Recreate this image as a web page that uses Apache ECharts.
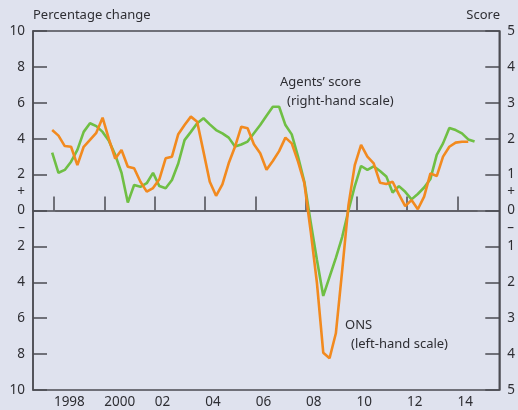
<!DOCTYPE html>
<html>
<head>
<meta charset="utf-8">
<script src="https://cdn.jsdelivr.net/npm/echarts@6/dist/echarts.min.js"></script>
<style>
  html, body { margin: 0; padding: 0; background: #dfe2ee; }
  #main { width: 518px; height: 410px; }
</style>
</head>
<body>
<div id="main"></div>
<script>
// quarterly series, first observation plotted just before the 1998 tick
const firstQuarter = 1997.93;

// ONS, percentage change (left-hand scale)
const onsValues = [
  4.48, 4.17, 3.59, 3.55, 2.53, 3.55, 3.93, 4.33, 5.17, 3.97,
  2.89, 3.37, 2.44, 2.35, 1.60, 1.05, 1.25, 1.74, 2.91, 3.00,
  4.25, 4.76, 5.23, 4.95, 3.28, 1.60, 0.82, 1.46, 2.63, 3.55,
  4.67, 4.58, 3.69, 3.19, 2.27, 2.76, 3.31, 4.06, 3.74, 2.72,
  1.52, -1.14, -4.04, -7.92, -8.23, -6.84, -3.35, 0.30, 2.53, 3.65,
  3.00, 2.63, 1.55, 1.48, 1.60, 0.90, 0.25, 0.58, 0.07, 0.77,
  2.07, 1.92, 3.00, 3.55, 3.78, 3.83, 3.83
];

// Agents' score (right-hand scale)
const agentsValues = [
  1.61, 1.05, 1.13, 1.36, 1.69, 2.19, 2.43, 2.35, 2.19, 1.94,
  1.55, 1.05, 0.22, 0.71, 0.66, 0.76, 1.05, 0.68, 0.62, 0.85,
  1.31, 1.96, 2.19, 2.43, 2.57, 2.40, 2.24, 2.15, 2.03, 1.78,
  1.84, 1.92, 2.15, 2.38, 2.64, 2.89, 2.89, 2.38, 2.12, 1.50,
  0.80, -0.32, -1.38, -2.38, -1.85, -1.32, -0.74, 0.00, 0.68, 1.24,
  1.13, 1.23, 1.10, 0.95, 0.50, 0.68, 0.52, 0.31, 0.46, 0.64,
  0.88, 1.55, 1.87, 2.30, 2.24, 2.15, 1.98, 1.92
];

const yearTicks = [1998, 2000, 2002, 2004, 2006, 2008, 2010, 2012, 2014];
const leftTicks = [-10, -8, -6, -4, -2, 0, 2, 4, 6, 8, 10];
const rightTicks = [-5, -4, -3, -2, -1, 0, 1, 2, 3, 4, 5];
const zeroLineSpan = [1998.05, 2014.8];

const toPairs = vals => vals.map((v, i) => [firstQuarter + i * 0.25, v]);

const inkColor = '#2e2e33';
const axisColor = '#4b4b52';
const fontFamily = '"Noto Sans", "Open Sans", sans-serif';

const chart = echarts.init(document.getElementById('main'), null, { renderer: 'canvas' });

chart.setOption({
  backgroundColor: '#dfe2ee',
  animation: false,
  textStyle: { fontFamily: fontFamily, color: inkColor },
  grid: {
    left: 33, right: 18, top: 31, bottom: 20,
    show: true, borderColor: axisColor, borderWidth: 1.5
  },
  xAxis: {
    type: 'value',
    min: 1997.17,
    max: 2015.66,
    axisLine: { show: true, lineStyle: { color: axisColor, width: 1.5 } },
    axisTick: {
      show: true, inside: true, length: 14, customValues: yearTicks,
      lineStyle: { color: axisColor, width: 1.5 }
    },
    axisLabel: {
      customValues: yearTicks,
      align: 'left',
      margin: 5,
      fontSize: 13.5,
      color: inkColor,
      formatter: v => (v === 1998 || v === 2000) ? String(v) : String(v).slice(2)
    },
    splitLine: { show: false }
  },
  yAxis: [
    {
      type: 'value',
      min: -10, max: 10,
      position: 'left',
      axisLine: { show: true, lineStyle: { color: axisColor, width: 1.5 } },
      axisTick: {
        show: true, inside: true, length: 14, customValues: leftTicks,
        lineStyle: { color: axisColor, width: 1.5 }
      },
      axisLabel: {
        customValues: leftTicks.concat([1, -1]),
        margin: 8,
        fontSize: 13.5,
        color: inkColor,
        formatter: v => v === 1 ? '+' : v === -1 ? '–' : String(Math.abs(v))
      },
      splitLine: { show: false }
    },
    {
      type: 'value',
      min: -5, max: 5,
      position: 'right',
      axisLine: { show: true, lineStyle: { color: axisColor, width: 1.5 } },
      axisTick: {
        show: true, inside: true, length: 14, customValues: rightTicks,
        lineStyle: { color: axisColor, width: 1.5 }
      },
      axisLabel: {
        customValues: rightTicks.concat([0.5, -0.5]),
        margin: 8,
        fontSize: 13.5,
        color: inkColor,
        formatter: v => v === 0.5 ? '+' : v === -0.5 ? '–' : String(Math.abs(v))
      },
      splitLine: { show: false }
    }
  ],
  graphic: [
    { type: 'text', left: 33, top: 9, style: { text: 'Percentage change', fontSize: 13, fontFamily: fontFamily, fill: inkColor } },
    { type: 'text', right: 18, top: 9, style: { text: 'Score', fontSize: 13, fontFamily: fontFamily, fill: inkColor } },
    { type: 'text', left: 280, top: 76, style: { text: 'Agents\u2019 score', fontSize: 13, fontFamily: fontFamily, fill: inkColor } },
    { type: 'text', left: 287, top: 95, style: { text: '(right-hand scale)', fontSize: 13, fontFamily: fontFamily, fill: inkColor } },
    { type: 'text', left: 345, top: 319, style: { text: 'ONS', fontSize: 13, fontFamily: fontFamily, fill: inkColor } },
    { type: 'text', left: 351, top: 338, style: { text: '(left-hand scale)', fontSize: 13, fontFamily: fontFamily, fill: inkColor } }
  ],
  series: [
    {
      name: 'Agents\u2019 score',
      type: 'line',
      yAxisIndex: 1,
      data: toPairs(agentsValues),
      showSymbol: false,
      lineStyle: { color: '#6fbf44', width: 2.6 },
      z: 3
    },
    {
      name: 'ONS',
      type: 'line',
      yAxisIndex: 0,
      data: toPairs(onsValues),
      showSymbol: false,
      lineStyle: { color: '#f28a1f', width: 2.6 },
      z: 4,
      markLine: {
        silent: true,
        symbol: 'none',
        label: { show: false },
        lineStyle: { color: '#5d5d63', width: 1.5, type: 'solid' },
        data: [[{ coord: [zeroLineSpan[0], 0] }, { coord: [zeroLineSpan[1], 0] }]],
        z: 1
      }
    }
  ]
});
</script>
</body>
</html>
